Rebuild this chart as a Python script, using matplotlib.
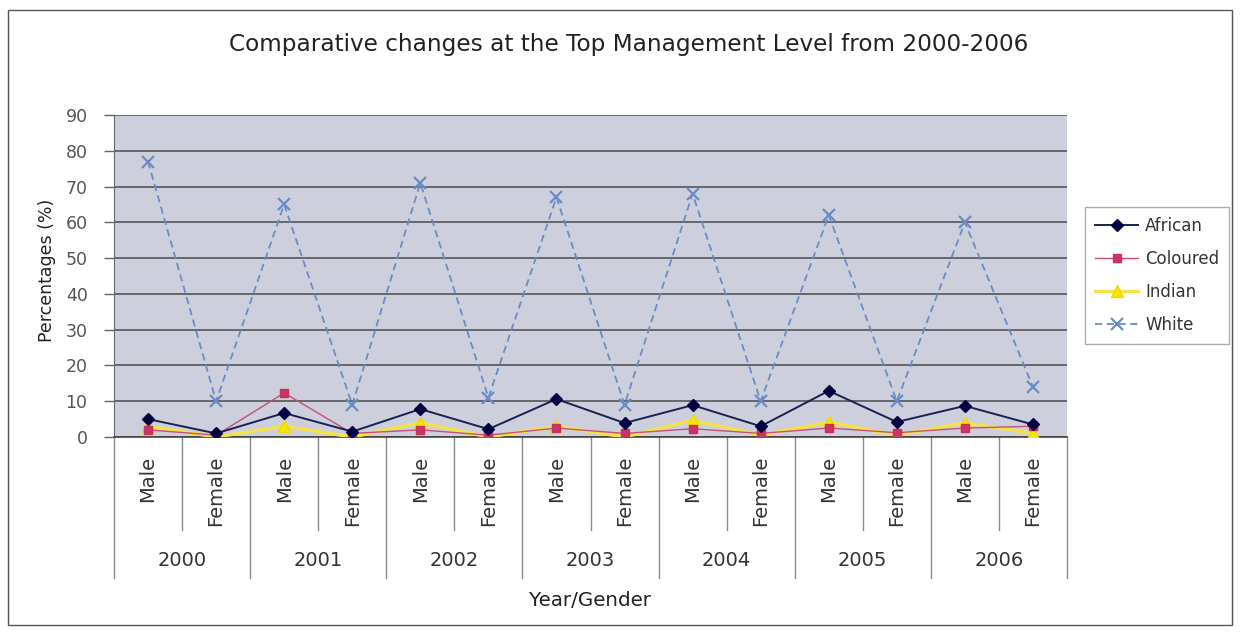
import matplotlib
matplotlib.use("Agg")
import matplotlib.pyplot as plt
from matplotlib.patches import Rectangle
from matplotlib.lines import Line2D

years = ["2000", "2001", "2002", "2003", "2004", "2005", "2006"]
genders = ["Male", "Female"]
categories = [(y, g) for y in years for g in genders]

african = [5, 1, 6.7, 1.5, 7.8, 2.2, 10.6, 3.9, 8.9, 3, 12.9, 4.2, 8.7, 3.5]
coloured = [2, 0.5, 12.3, 1, 2, 0.5, 2.5, 1, 2.3, 1, 2.5, 1.2, 2.5, 3]
indian = [3, 0, 3, 0, 4, 0, 3, 0, 4.7, 0.5, 4.2, 0.5, 4, 1]
white = [77, 10, 65, 9, 71, 11, 67, 9, 68, 10, 62, 10, 60, 14]

W, H = 1240, 632
fig = plt.figure(figsize=(W / 100, H / 100), dpi=100)
fig.patch.set_facecolor("white")

ax = fig.add_axes([114 / W, 1 - 437 / H, (1067 - 114) / W, (437 - 115) / H])
ax.set_facecolor("#cdd0dc")

x = list(range(len(categories)))
ax.plot(x, white, color="#6a8cc4", lw=1.3, ls=(0, (4, 2.5)), marker="x",
        ms=8, mew=1.6, label="White", zorder=3)
ax.plot(x, indian, color="#f3e24a", lw=2.4, marker="^", ms=8,
        mec="#f0d800", mfc="#f7e600", label="Indian", zorder=4)
ax.plot(x, coloured, color="#c8507a", lw=1.0, marker="s", ms=6,
        mec="#c8305a", mfc="#cc3366", label="Coloured", zorder=5)
ax.plot(x, african, color="#1a2050", lw=1.4, marker="D", ms=6,
        mfc="#000040", mec="#000040", label="African", zorder=6)

ax.set_xlim(-0.5, len(categories) - 0.5)
ax.set_ylim(0, 90)
ax.set_yticks(range(0, 91, 10))
ax.yaxis.grid(True, color="#4a4a4a", lw=1.1)
ax.set_axisbelow(True)
ax.tick_params(axis="y", length=7, width=1, color="#666666",
               labelsize=12.5, labelcolor="#555555", pad=12)
ax.set_xticks([])
for s in ["top", "right"]:
    ax.spines[s].set_visible(False)
ax.spines["left"].set_color("#666666")
ax.spines["bottom"].set_color("#444444")
ax.spines["bottom"].set_linewidth(1.2)

trans = ax.get_xaxis_transform()
ax_h = 437 - 115
for i, (yr, g) in enumerate(categories):
    ax.text(i, -19 / ax_h, g, rotation=90, ha="center", va="top",
            fontsize=14, color="#333333", transform=trans, clip_on=False)
for j, yr in enumerate(years):
    ax.text(2 * j + 0.5, -123 / ax_h, yr, ha="center", va="center",
            fontsize=14, color="#333333", transform=trans, clip_on=False)

for k in range(len(categories) + 1):
    xb = k - 0.5
    if k % 2 == 0:
        y1 = -141 / ax_h
    else:
        y1 = -93 / ax_h
    ax.add_line(Line2D([xb, xb], [0, y1], transform=trans, color="#8a8a8a",
                       lw=1.0, clip_on=False))

fig.text(629 / W, 1 - 45 / H,
         "Comparative changes at the Top Management Level from 2000-2006",
         ha="center", va="center", fontsize=16.7, color="#222222")
fig.text(590 / W, 1 - 601 / H, "Year/Gender", ha="center", va="center",
         fontsize=14.3, color="#222222")
fig.text(47 / W, 1 - 270 / H, "Percentages (%)", rotation=90, ha="center",
         va="center", fontsize=12.5, color="#222222")

handles, labels = ax.get_legend_handles_labels()
order = [3, 2, 1, 0]
leg = fig.legend([handles[i] for i in order], [labels[i] for i in order],
                 loc="upper left", bbox_to_anchor=(1085 / W, 1 - 207 / H),
                 borderaxespad=0,
                 frameon=True, fancybox=False, fontsize=12, handlelength=2.6,
                 labelspacing=0.9, borderpad=0.6, handletextpad=0.4,
                 labelcolor="#333333")
leg.get_frame().set_edgecolor("#999999")
leg.get_frame().set_linewidth(1.0)

fig.add_artist(Rectangle((8 / W, 1 - 625 / H), 1224 / W, 615 / H,
                         transform=fig.transFigure, fill=False,
                         edgecolor="#555555", lw=1.0))

fig.savefig("out.png", dpi=100)
